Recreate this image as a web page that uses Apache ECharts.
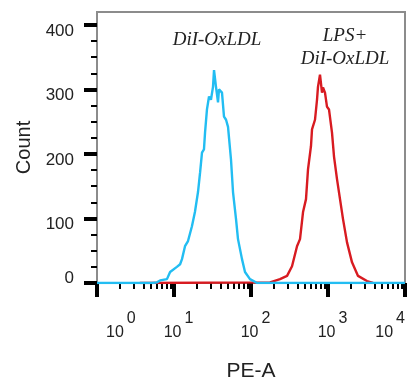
<!DOCTYPE html>
<html>
<head>
<meta charset="utf-8">
<script src="https://cdn.jsdelivr.net/npm/echarts@6/dist/echarts.min.js"></script>
<style>
  html, body { margin: 0; padding: 0; background: #fff; }
  #chart { width: 409px; height: 387px; }
</style>
</head>
<body>
<div id="chart"></div>
<script>
// PE-A intensity (log scale) and event counts
var blueX = [1, 5.2, 6.0, 6.6, 8.1, 8.9, 10.9, 12.0, 12.7, 13.9, 15.2, 17.1, 18.7, 20.5, 21.8, 23.1, 24.5, 25.3, 26.8, 28.5, 30.2, 32.1, 33.1, 35.1, 37.3, 38.4, 42.0, 44.6, 47.4, 50.3, 55.0, 58.4, 63.9, 67.8, 76.4, 83.6, 97, 120, 10000];
var blueY = [0, 0, 1, 4, 6, 17, 25, 29, 37, 57, 65, 88, 110, 141, 171, 202, 207, 233, 269, 289, 284, 304, 330, 304, 280, 300, 295, 258, 253, 242, 191, 141, 99, 68, 37, 17, 6, 0, 0];
var redX = [3.6, 177, 238, 294, 341, 396, 433, 474, 518, 550, 601, 620, 638, 678, 720, 741, 787, 836, 861, 914, 971, 1030, 1127, 1197, 1309, 1432, 1567, 1766, 2051, 2455, 3206, 3840];
var redY = [0, 1, 6, 11, 26, 57, 68, 110, 130, 176, 212, 238, 235, 253, 284, 304, 323, 295, 303, 295, 273, 269, 233, 196, 161, 130, 99, 63, 32, 11, 3, 0];

var xMajor = [1, 10, 100, 1000, 10000];
var xMinor = [];
[1, 10, 100, 1000].forEach(function (d) {
  for (var k = 2; k <= 9; k++) xMinor.push(d * k);
});
var yMajor = [0, 100, 200, 300, 400];
var yMinor = [25, 50, 75, 125, 150, 175, 225, 250, 275, 325, 350, 375];

function pairs(xs, ys) {
  return xs.map(function (x, i) { return [x, ys[i]]; });
}

var chart = echarts.init(document.getElementById('chart'));
var font = 'Liberation Sans, Arial, sans-serif';

chart.setOption({
  animation: false,
  backgroundColor: '#fff',
  grid: {
    left: 97, right: 4, top: 12, bottom: 103,
    show: true, borderColor: '#8c8c8c', borderWidth: 2
  },
  xAxis: [{
    type: 'log', logBase: 10, min: 1, max: 10000,
    name: 'PE-A', nameLocation: 'middle', nameGap: 78,
    nameTextStyle: { fontFamily: font, fontSize: 21, color: '#222' },
    axisLine: { show: false, onZero: false },
    splitLine: { show: false },
    axisTick: { customValues: xMajor, length: 14, lineStyle: { color: '#000', width: 4 } },
    axisLabel: {
      customValues: xMajor, margin: 28,
      alignMinLabel: 'left', alignMaxLabel: 'right',
      formatter: function (v) {
        return '{b|10}{s|' + Math.round(Math.log10(v)) + '}';
      },
      rich: {
        b: { fontFamily: font, fontSize: 16, color: '#222', padding: [0, 0, 0, 9], verticalAlign: 'bottom' },
        s: { fontFamily: font, fontSize: 16, color: '#222', padding: [0, 0, 14, 3], verticalAlign: 'bottom' }
      }
    }
  }, {
    type: 'log', logBase: 10, min: 1, max: 10000, position: 'bottom',
    axisLine: { show: false, onZero: false },
    splitLine: { show: false },
    axisTick: { customValues: xMinor, length: 6, lineStyle: { color: '#000', width: 2 } },
    axisLabel: { show: false }
  }],
  yAxis: [{
    type: 'value', min: 0, max: 420,
    name: 'Count', nameLocation: 'middle', nameGap: 62, nameRotate: 90,
    nameTextStyle: { fontFamily: font, fontSize: 20, color: '#222' },
    axisLine: { show: false, onZero: false },
    splitLine: { show: false },
    axisTick: { customValues: yMajor, length: 13, lineStyle: { color: '#000', width: 4 } },
    axisLabel: {
      customValues: yMajor, margin: 23,
      formatter: function (v) { return v === 0 ? '{lo|0}' : '{hi|' + v + '}'; },
      rich: {
        hi: { fontFamily: font, fontSize: 17, color: '#222', padding: [12, 0, 0, 0] },
        lo: { fontFamily: font, fontSize: 17, color: '#222', padding: [0, 0, 10, 0] }
      }
    }
  }, {
    type: 'value', min: 0, max: 420, position: 'left',
    axisLine: { show: false, onZero: false },
    splitLine: { show: false },
    axisTick: { customValues: yMinor, length: 6, lineStyle: { color: '#000', width: 2 } },
    axisLabel: { show: false }
  }],
  graphic: [{
    type: 'text', x: 217, y: 40,
    style: { text: 'DiI-OxLDL', font: 'italic 19px "Liberation Serif", "Times New Roman", serif', fill: '#222', align: 'center', verticalAlign: 'middle' }
  }, {
    type: 'text', x: 345, y: 47,
    style: { text: 'LPS+\nDiI-OxLDL', font: 'italic 19px "Liberation Serif", "Times New Roman", serif', lineHeight: 23, fill: '#222', align: 'center', verticalAlign: 'middle' }
  }],
  series: [{
    type: 'line', name: 'LPS+DiI-OxLDL', xAxisIndex: 0, yAxisIndex: 0,
    data: pairs(redX, redY), showSymbol: false,
    lineStyle: { color: '#d81b21', width: 2.4 }
  }, {
    type: 'line', name: 'DiI-OxLDL', xAxisIndex: 0, yAxisIndex: 0,
    data: pairs(blueX, blueY), showSymbol: false,
    lineStyle: { color: '#22bdf2', width: 2.4 }
  }]
});
</script>
</body>
</html>
